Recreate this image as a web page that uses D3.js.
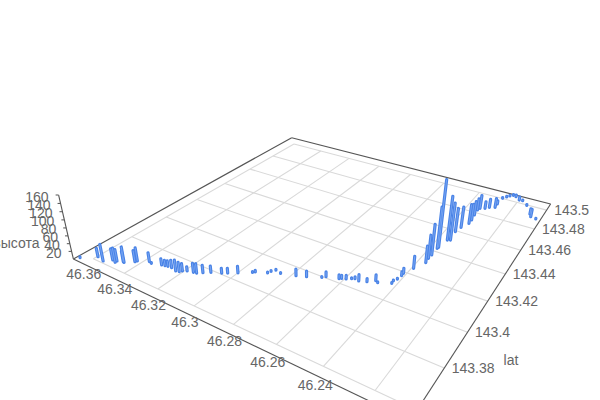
<!DOCTYPE html><html><head><meta charset="utf-8"><script src="https://cdn.jsdelivr.net/npm/d3@7"></script>
<style>body{margin:0;background:#fff}svg{display:block}text{font-family:"Liberation Sans",Arial,sans-serif;font-size:14px;fill:#666}</style></head><body><svg width="600" height="400"></svg><script>
const xTicks=[46.36,46.34,46.32,46.3,46.28,46.26,46.24,46.22];
const yTicks=[143.5,143.48,143.46,143.44,143.42,143.4,143.38,143.36];
const zTicks=[20,40,60,80,100,120,140,160];
const yLabelTicks=[143.5,143.48,143.46,143.44,143.42,143.4,143.38];
const xExtent=[46.3672,46.2051], yExtent=[143.507,143.3555];
const pointX=[46.3656,46.3596,46.3550,46.3521,46.3498,46.3499,46.3465,46.3472,46.3429,46.3425,46.3377,46.3360,46.3313,46.3297,46.3283,46.3262,46.3230,46.3214,46.3206,46.3189,46.3160,46.3145,46.3124,46.3098,46.3056,46.3035,46.2999,46.2950,46.2942,46.2894,46.2889,46.2877,46.2846,46.2782,46.2741,46.2685,46.2673,46.2620,46.2612,46.2594,46.2576,46.2564,46.2543,46.2512,46.2485,46.2472,46.2421,46.2423,46.2415,46.2411,46.2412,46.2392,46.2366,46.2370,46.2369,46.2370,46.2368,46.2359,46.2347,46.2356,46.2348,46.2330,46.2331,46.2337,46.2342,46.2337,46.2316,46.2301,46.2277,46.2279,46.2276,46.2263,46.2252,46.2239,46.2223,46.2198,46.2181,46.2149,46.2110,46.2099,46.2072];
const pointY=[143.3576,143.3620,143.3611,143.3637,143.3631,143.3641,143.3650,143.3652,143.3677,143.3686,143.3709,143.3705,143.3719,143.3723,143.3726,143.3727,143.3720,143.3724,143.3734,143.3744,143.3751,143.3754,143.3769,143.3788,143.3807,143.3820,143.3842,143.3876,143.3884,143.3905,143.3921,143.3938,143.3930,143.3950,143.3967,143.3995,143.4008,143.4024,143.4031,143.4037,143.4050,143.4057,143.4052,143.4065,143.4089,143.4082,143.4107,143.4124,143.4143,143.4172,143.4190,143.4242,143.4304,143.4338,143.4368,143.4426,143.4436,143.4509,143.4516,143.4592,143.4639,143.4691,143.4726,143.4776,143.4828,143.4849,143.4862,143.4882,143.4897,143.4934,143.5003,143.5027,143.5045,143.5061,143.5054,143.5029,143.5031,143.4996,143.4922,143.4899,143.4891];
const pointH=[2,22,43,29,37,30,40,27,29,34,23,2,16,14,14,19,28,24,19,11,23,24,19,16,12,12,17,2,4,2,2,2,2,17,14,2,12,10,8,9,2,5,16,8,15,2,2,2,2,10,13,31,43,60,79,107,172,115,98,63,56,52,44,38,32,37,19,23,25,9,2,2,2,2,5,9,2,2,15,21,2];
const svg=d3.select('svg');
function solveH(p00,p10,p11,p01){const [x0,y0]=p00,[x1,y1]=p10,[x2,y2]=p11,[x3,y3]=p01;
const dx1=x1-x2,dx2=x3-x2,dx3=x0-x1+x2-x3,dy1=y1-y2,dy2=y3-y2,dy3=y0-y1+y2-y3;
const d=dx1*dy2-dx2*dy1,g=(dx3*dy2-dx2*dy3)/d,h=(dx1*dy3-dx3*dy1)/d;
return [[x1-x0+g*x1,x3-x0+h*x3,x0],[y1-y0+g*y1,y3-y0+h*y3,y0],[g,h,1]];}
const H=solveH([294,144],[479.3,192.5],[355.4,330.7],[131.9,236.7]);
const sx=d3.scaleLinear().domain([46.36,46.24]).range([0,1]);
const sy=d3.scaleLinear().domain([143.5,143.38]).range([0,1]);
const VP=[313,1300];
const W=(x,y)=>H[2][0]*sx(x)+H[2][1]*sy(y)+1;
const zk=d3.scaleLinear().domain([0,160]).range([0,-0.0579*W(xExtent[0],yExtent[1])]);
function P(x,y,z=0){const s=sx(x),t=sy(y),w=W(x,y),k=zk(z);
 return [(H[0][0]*s+H[0][1]*t+H[0][2]+k*VP[0])/(w+k),(H[1][0]*s+H[1][1]*t+H[1][2]+k*VP[1])/(w+k)];}
const seg=(g,data,cls,color,width,f)=>g.selectAll('line.'+cls).data(data).join('line').attr('class',cls)
 .attr('x1',d=>f(d)[0][0]).attr('y1',d=>f(d)[0][1]).attr('x2',d=>f(d)[1][0]).attr('y2',d=>f(d)[1][1]).attr('stroke',color).attr('stroke-width',width);
const g=svg.append('g');
seg(g,xTicks,'gx','#d9d9d9',1.1,x=>[P(x,143.5),P(x,143.36)]);
seg(g,yTicks,'gy','#d9d9d9',1.1,y=>[P(46.36,y),P(xExtent[1],y)]);
const A=[xExtent[0],yExtent[1]],B=[xExtent[0],yExtent[0]],C=[xExtent[1],yExtent[0]],D=[xExtent[1],yExtent[1]];
seg(g,[[A,B],[B,C],[C,D],[D,A]],'box','#555',1.1,e=>[P(...e[0]),P(...e[1])]);
seg(g,[0],'zaxis','#555',1.1,()=>[P(...A,0),P(...A,160)]);
seg(g,zTicks,'ztick','#555',1,z=>{const p=P(...A,z);return [p,[p[0]-3,p[1]]];});
svg.selectAll('text.xl').data(xTicks).join('text').attr('class','xl').attr('text-anchor','middle').attr('dominant-baseline','central')
 .attr('x',x=>P(x,yExtent[1])[0]-0.3).attr('y',x=>P(x,yExtent[1])[1]+9.5).text(d=>d);
svg.selectAll('text.yl').data(yLabelTicks).join('text').attr('class','yl').attr('dominant-baseline','central')
 .attr('x',y=>P(xExtent[1],y)[0]+7.5).attr('y',y=>P(xExtent[1],y)[1]).text(d=>d);
svg.selectAll('text.zl').data(zTicks).join('text').attr('class','zl').attr('text-anchor','end').attr('dominant-baseline','central')
 .attr('x',z=>P(...A,z)[0]-10).attr('y',z=>P(...A,z)[1]+1.5).text(d=>d);
svg.append('text').attr('x',39.5).attr('y',243.3).attr('text-anchor','end').attr('dominant-baseline','central').text('высота');
svg.append('text').attr('x',511).attr('y',360).attr('text-anchor','middle').attr('dominant-baseline','central').text('lat');
const idx=d3.range(pointX.length);
const ends=i=>[P(pointX[i],pointY[i]),P(pointX[i],pointY[i],pointH[i])];
const m=svg.append('g');
seg(m,idx,'bar','#4a83e6',3.2,ends).attr('stroke-linecap','round');
seg(m,idx,'hi','#74a3f2',1,ends);
</script></body></html>
